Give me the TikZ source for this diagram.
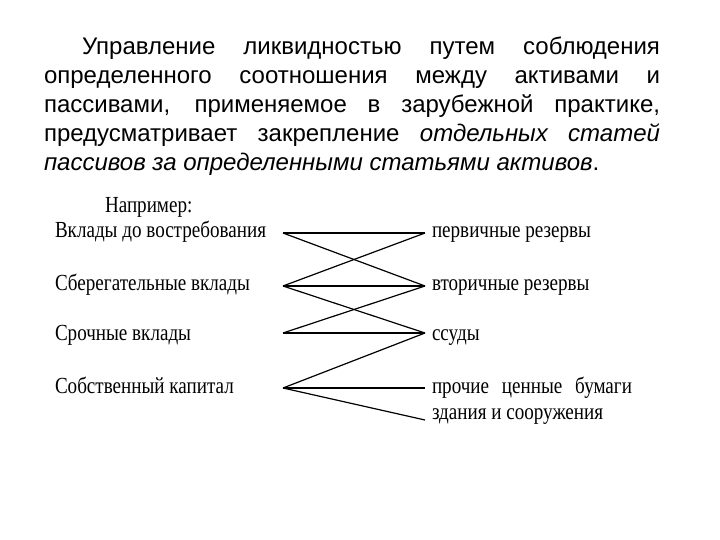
\documentclass[tikz,border=0pt]{standalone}
\usepackage{fontspec}
\setmainfont{Liberation Sans}
\newfontfamily\narrowserif[FakeStretch=0.83]{Liberation Serif}
\tikzstyle{every node} = [
		inner sep = 0pt,
		outer sep = 0pt
	]
\tikzstyle{item} = [
		anchor = base west,
		font = \narrowserif\fontsize{23bp}{25bp}\selectfont
	]
\tikzstyle{link} = [
		draw = black,
		line width = 1.2bp
	]

\begin{document}
\begin{tikzpicture}[x=1bp, y=-1bp]
	\useasboundingbox [fill=white] (0,0) rectangle (720,540);

		%------------------------------Text------------------------------
		\node [anchor=north west, text width=616bp, align=justify,
			font=\fontsize{24bp}{29bp}\selectfont] (intro) at (44,37)
			{\hyphenpenalty=10000\hspace*{38bp}Управление ликвидностью путем соблюдения\linebreak
			 определенного соотношения между активами и\linebreak
			 пассивами, применяемое в зарубежной практике,\linebreak
			 предусматривает закрепление \textit{отдельных статей\linebreak
			 пассивов за определенными статьями активов}.};

		\node [item] (example) at (105,213) {Например:};

		%------------------------------Liabilities------------------------------
		\node [item] (demand)  at (55,238) {Вклады до востребования};
		\node [item] (savings) at (55,290) {Сберегательные вклады};
		\node [item] (term)    at (55,340) {Срочные вклады};
		\node [item] (equity)  at (55,393) {Собственный капитал};

		%------------------------------Assets------------------------------
		\node [item] (primary)    at (432,238) {первичные резервы};
		\node [item] (secondary)  at (432,290) {вторичные резервы};
		\node [item] (loans)      at (432,340) {ссуды};
		\node [item] (securities) at (432,393) {\makebox[200bp][s]{прочие ценные бумаги}};
		\node [item] (buildings)  at (432,419) {здания и сооружения};

		\coordinate (demand-e)  at (283,233);
		\coordinate (savings-e) at (283,286);
		\coordinate (term-e)    at (283,333);
		\coordinate (equity-e)  at (283,388);

		\coordinate (primary-w)    at (425,233);
		\coordinate (secondary-w)  at (425,286);
		\coordinate (loans-w)      at (425,333);
		\coordinate (securities-w) at (425,388);
		\coordinate (buildings-w)  at (425,420);

		%------------------------------Chart------------------------------
		\draw [link] (demand-e) -- (primary-w);
		\draw [link] (demand-e) -- (secondary-w);
		\draw [link] (savings-e) -- (primary-w);
		\draw [link] (savings-e) -- (secondary-w);
		\draw [link] (savings-e) -- (loans-w);
		\draw [link] (term-e) -- (secondary-w);
		\draw [link] (term-e) -- (loans-w);
		\draw [link] (equity-e) -- (loans-w);
		\draw [link] (equity-e) -- (securities-w);
		\draw [link] (equity-e) -- (buildings-w);

	\end{tikzpicture}
\end{document}
